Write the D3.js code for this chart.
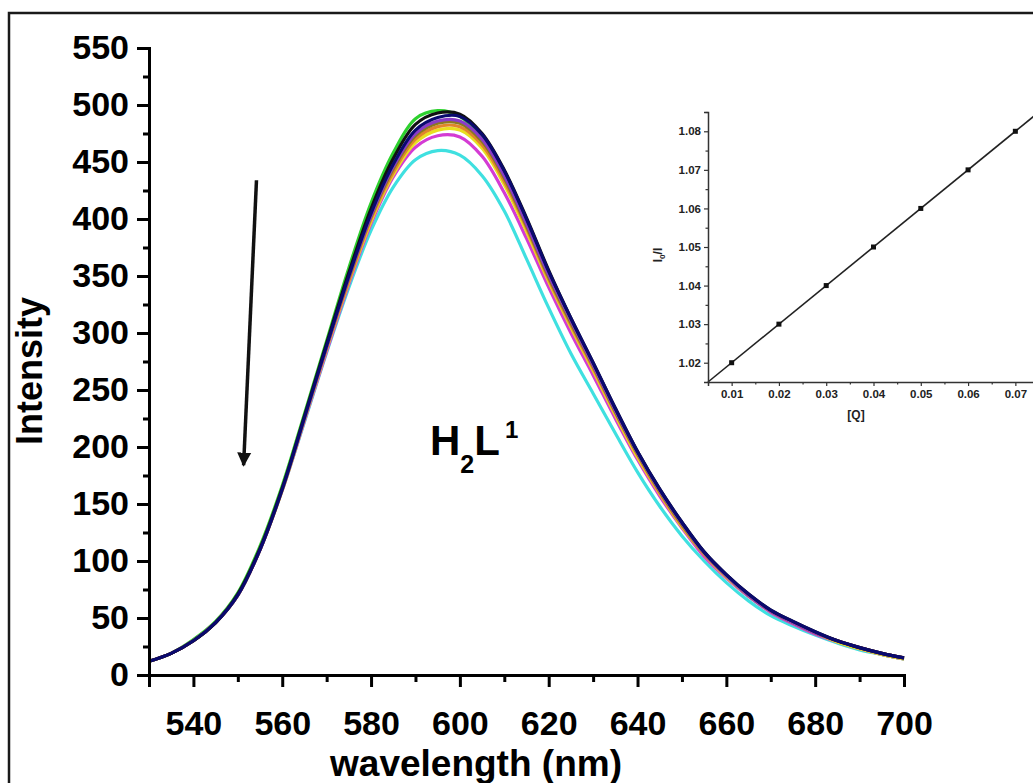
<!DOCTYPE html>
<html>
<head>
<meta charset="utf-8">
<script src="https://cdn.jsdelivr.net/npm/d3@7"></script>
<style>
  html, body { margin: 0; padding: 0; background: #fff; }
  svg { display: block; font-family: "Liberation Sans", Arial, sans-serif; }
</style>
</head>
<body>
<div id="chart"></div>
<script>
const width = 1033;
const height = 783;

// --- Emission spectra (nm vs intensity), every 5 nm ---
const wavelengths = [530, 535, 540, 545, 550, 555, 560, 565, 570, 575, 580, 585, 590, 595, 600,
  605, 610, 615, 620, 625, 630, 635, 640, 645, 650, 655, 660, 665, 670, 675, 680, 685, 690, 695, 700];

const green   = [12, 19, 31, 47, 72, 113, 166, 229, 293, 357, 414, 458, 488, 495, 490, 470, 437, 395, 350, 309, 270, 231, 193, 160, 131, 106, 86, 69, 56, 46, 37, 29, 23, 18, 14];
const cyan    = [12, 19, 30, 46, 70, 110, 162, 222, 283, 340, 390, 428, 452, 460, 456, 438, 407, 365, 322, 282, 247, 212, 178, 148, 122, 100, 81, 65, 52, 43, 35, 28, 22, 18, 14];
const magenta = [12, 19, 30, 46, 70, 110, 162, 223, 284, 343, 396, 437, 463, 473, 472, 455, 423, 383, 340, 300, 263, 225, 189, 157, 129, 104, 85, 69, 55, 45, 36, 29, 23, 18, 14];
const yellow  = [12, 19, 30, 46, 70, 110, 162, 224, 286, 345, 398, 439, 467, 478, 478, 462, 430, 389, 345, 305, 267, 228, 191, 159, 130, 106, 86, 70, 56, 46, 37, 29, 23, 18, 14];
const orange  = [12, 19, 30, 46, 70, 110, 163, 225, 287, 346, 400, 441, 470, 481, 481, 465, 433, 392, 347, 307, 269, 230, 193, 160, 131, 106, 87, 70, 56, 46, 37, 30, 24, 19, 15];
const olive   = [12, 19, 30, 46, 70, 110, 163, 225, 288, 348, 402, 444, 473, 484, 484, 468, 436, 394, 349, 309, 271, 231, 194, 161, 132, 107, 87, 70, 56, 46, 37, 30, 24, 19, 15];
const violet  = [12, 19, 30, 46, 70, 110, 163, 225, 288, 349, 403, 446, 475, 486, 486, 470, 438, 396, 351, 311, 272, 232, 195, 162, 133, 107, 87, 70, 56, 46, 37, 30, 24, 19, 15];
const black   = [12, 19, 30, 46, 71, 111, 164, 227, 291, 353, 409, 453, 483, 493, 492, 475, 443, 401, 355, 313, 274, 234, 196, 163, 134, 108, 88, 71, 57, 47, 38, 30, 24, 19, 15];
const navy    = [12, 19, 30, 46, 70, 110, 163, 226, 289, 350, 405, 448, 478, 489, 490, 474, 442, 400, 354, 313, 274, 234, 196, 163, 134, 108, 88, 71, 57, 47, 38, 30, 24, 19, 15];

const spectra = [
  { name: "green",   color: "#2ed12e", values: green },
  { name: "cyan",    color: "#3fe0e0", values: cyan },
  { name: "magenta", color: "#d43bd4", values: magenta },
  { name: "yellow",  color: "#e8e020", values: yellow },
  { name: "orange",  color: "#e0862a", values: orange },
  { name: "olive",   color: "#8a7a1e", values: olive },
  { name: "violet",  color: "#8a3cc8", values: violet },
  { name: "black",   color: "#111111", values: black },
  { name: "navy",    color: "#0a0a6e", values: navy },
];

const yTicks = [0, 50, 100, 150, 200, 250, 300, 350, 400, 450, 500, 550];
const xTicks = [540, 560, 580, 600, 620, 640, 660, 680, 700];

// arrow annotation, in data units (from top to tip)
const arrowFrom = [554.2, 434];
const arrowTo   = [551.3, 184];

// --- Inset: Stern-Volmer plot ---
const quencher = [0.01, 0.02, 0.03, 0.04, 0.05, 0.06, 0.07];
const ratio    = [1.02, 1.03, 1.04, 1.05, 1.06, 1.07, 1.08];
const insetXTicks = [0.01, 0.02, 0.03, 0.04, 0.05, 0.06, 0.07];
const insetYTicks = [1.02, 1.03, 1.04, 1.05, 1.06, 1.07, 1.08];

const svg = d3.create("svg")
    .attr("width", width)
    .attr("height", height);

svg.append("rect").attr("width", width).attr("height", height).attr("fill", "#fff");

// outer frame (only left & top visible in the picture)
svg.append("path")
    .attr("d", `M9,${height} V13 H${width}`)
    .attr("fill", "none")
    .attr("stroke", "#1a1a1a")
    .attr("stroke-width", 2.5);

// --- Main scales ---
const x = d3.scaleLinear().domain([530, 700]).range([149, 904]);
const y = d3.scaleLinear().domain([0, 550]).range([675, 48]);

const line = d3.line()
    .x((d, i) => x(wavelengths[i]))
    .y(d => y(d))
    .curve(d3.curveCatmullRom.alpha(0.5));

svg.append("g")
  .selectAll("path")
  .data(spectra)
  .join("path")
    .attr("d", d => line(d.values))
    .attr("fill", "none")
    .attr("stroke", d => d.color)
    .attr("stroke-width", 3.2)
    .attr("stroke-linejoin", "round");

// --- Main axes ---
const fontBig = 34;

const yAxis = svg.append("g")
    .attr("transform", `translate(${x(530)},0)`)
    .call(d3.axisLeft(y).tickValues(yTicks).tickSize(12).tickPadding(8));
svg.append("g")
    .attr("transform", `translate(${x(530)},0)`)
    .call(d3.axisLeft(y).tickValues(d3.range(25, 550, 50)).tickSize(6).tickFormat(""))
    .call(g => g.select(".domain").remove());

const xAxis = svg.append("g")
    .attr("transform", `translate(0,${y(0)})`)
    .call(d3.axisBottom(x).tickValues(xTicks).tickSize(12).tickPadding(24));
svg.append("g")
    .attr("transform", `translate(0,${y(0)})`)
    .call(d3.axisBottom(x).tickValues(d3.range(530, 700, 20)).tickSize(7).tickFormat(""))
    .call(g => g.select(".domain").remove());

svg.selectAll(".domain").attr("stroke", "#000").attr("stroke-width", 3);
svg.selectAll(".tick line").attr("stroke", "#000").attr("stroke-width", 3);
[yAxis, xAxis].forEach(g => g.selectAll("text")
    .attr("font-size", fontBig)
    .attr("font-weight", "bold")
    .attr("font-family", "'Liberation Sans', Arial, sans-serif")
    .attr("fill", "#000"));

svg.append("text")
    .attr("transform", "translate(42,371) rotate(-90)")
    .attr("text-anchor", "middle")
    .attr("font-size", 36)
    .attr("font-weight", "bold")
    .text("Intensity");

svg.append("text")
    .attr("x", 476)
    .attr("y", 776)
    .attr("text-anchor", "middle")
    .attr("font-size", 37)
    .attr("font-weight", "bold")
    .text("wavelength (nm)");

// compound label H2L1
const lab = svg.append("text")
    .attr("x", 430)
    .attr("y", 455)
    .attr("font-size", 42)
    .attr("font-weight", "bold");
lab.append("tspan").text("H");
lab.append("tspan").attr("font-size", 25).attr("dy", 18).text("2");
lab.append("tspan").attr("dy", -18).text("L");
lab.append("tspan").attr("font-size", 24).attr("dy", -17).attr("dx", 5).text("1");

// arrow
svg.append("defs").append("marker")
    .attr("id", "arrowhead")
    .attr("viewBox", "0 0 10 10")
    .attr("refX", 9)
    .attr("refY", 5)
    .attr("markerWidth", 4)
    .attr("markerHeight", 5)
    .attr("orient", "auto")
  .append("path")
    .attr("d", "M0,0 L10,5 L0,10 Z")
    .attr("fill", "#111");

svg.append("line")
    .attr("x1", x(arrowFrom[0]))
    .attr("y1", y(arrowFrom[1]))
    .attr("x2", x(arrowTo[0]))
    .attr("y2", y(arrowTo[1]))
    .attr("stroke", "#111")
    .attr("stroke-width", 3.5)
    .attr("marker-end", "url(#arrowhead)");

// --- Inset ---
const xi = d3.scaleLinear().domain([0.005, 0.075]).range([708, 1039]);
const yi = d3.scaleLinear().domain([1.015, 1.085]).range([382, 112]);

const inset = svg.append("g");

// least-squares fit line
const mx = d3.mean(quencher), my = d3.mean(ratio);
const slope = d3.sum(quencher, (q, i) => (q - mx) * (ratio[i] - my)) / d3.sum(quencher, q => (q - mx) ** 2);
const intercept = my - slope * mx;
inset.append("line")
    .attr("x1", xi(0.005))
    .attr("y1", yi(intercept + slope * 0.005))
    .attr("x2", xi(0.075))
    .attr("y2", yi(intercept + slope * 0.075))
    .attr("stroke", "#222")
    .attr("stroke-width", 1.6);

inset.append("g")
  .selectAll("rect")
  .data(quencher)
  .join("rect")
    .attr("x", (d, i) => xi(d) - 2.5)
    .attr("y", (d, i) => yi(ratio[i]) - 2.5)
    .attr("width", 5)
    .attr("height", 5)
    .attr("fill", "#111");

inset.append("g")
    .attr("transform", `translate(0,${yi(1.015)})`)
    .call(d3.axisBottom(xi).tickValues(insetXTicks).tickSize(4).tickPadding(4).tickFormat(d3.format(".2f")));
inset.append("g")
    .attr("transform", `translate(0,${yi(1.015)})`)
    .call(d3.axisBottom(xi).tickValues(d3.range(0.015, 0.075, 0.01)).tickSize(2.5).tickFormat(""))
    .call(g => g.select(".domain").remove());
inset.append("g")
    .attr("transform", `translate(${xi(0.005)},0)`)
    .call(d3.axisLeft(yi).tickValues(insetYTicks).tickSize(4).tickPadding(3).tickFormat(d3.format(".2f")));
inset.append("g")
    .attr("transform", `translate(${xi(0.005)},0)`)
    .call(d3.axisLeft(yi).tickValues(d3.range(1.025, 1.085, 0.01)).tickSize(2.5).tickFormat(""))
    .call(g => g.select(".domain").remove());

inset.selectAll(".domain").attr("stroke", "#333").attr("stroke-width", 1.5);
inset.selectAll(".tick line").attr("stroke", "#333").attr("stroke-width", 1.2);
inset.selectAll("text")
    .attr("font-size", 11.5)
    .attr("font-weight", "bold")
    .attr("font-family", "'Liberation Sans', Arial, sans-serif")
    .attr("fill", "#222");

inset.append("text")
    .attr("x", 856)
    .attr("y", 419)
    .attr("text-anchor", "middle")
    .attr("font-size", 12)
    .attr("font-weight", "bold")
    .attr("fill", "#222")
    .text("[Q]");

const il = inset.append("text")
    .attr("transform", "translate(662,255) rotate(-90)")
    .attr("text-anchor", "middle")
    .attr("font-size", 12)
    .attr("font-weight", "bold")
    .attr("fill", "#222");
il.append("tspan").text("I");
il.append("tspan").attr("font-size", 8).attr("dy", 3).text("0");
il.append("tspan").attr("dy", -3).text("/I");

document.querySelector("#chart").append(svg.node());
</script>
</body>
</html>
